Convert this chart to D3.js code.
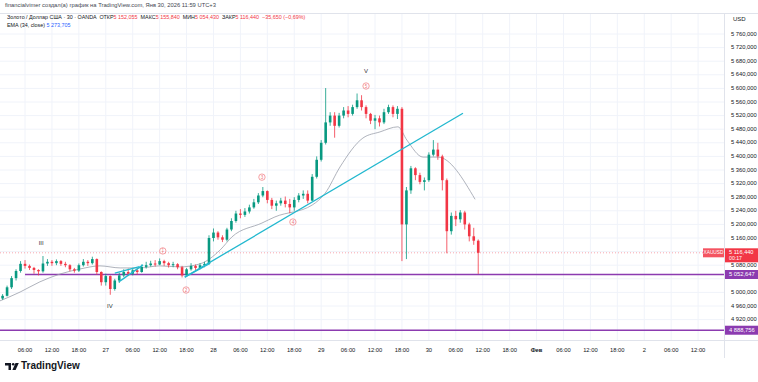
<!DOCTYPE html>
<html><head><meta charset="utf-8">
<script src="https://cdn.jsdelivr.net/npm/d3@7"></script>
<style>body{margin:0;background:#fff;} svg{display:block;font-family:"Liberation Sans",Arial,sans-serif;}</style>
</head><body><svg id="c" width="758" height="382"></svg>
<script>
// ---------- DATA ----------
const firstCandleHour = 1; // hours after Jan 26 00:00 (UTC+3)
const opens = [4982,4990,5015,5042,5063,5084,5078,5072,5066,5062,5085,5090,5086,5092,5084,5080,5068,5064,5080,5090,5086,5098,5060,5030,5048,5010,5035,5050,5060,5055,5065,5060,5075,5080,5085,5082,5092,5086,5080,5083,5074,5050,5068,5078,5072,5080,5084,5160,5176,5162,5155,5185,5210,5232,5228,5238,5250,5265,5285,5298,5272,5255,5262,5270,5260,5250,5272,5285,5290,5270,5340,5390,5440,5500,5520,5490,5520,5535,5525,5545,5565,5545,5525,5505,5512,5500,5530,5545,5525,5540,5200,5300,5365,5345,5325,5330,5405,5420,5400,5330,5180,5225,5215,5235,5200,5165,5152.055];
const highs = [4995,5020,5048,5068,5092,5095,5082,5075,5068,5107,5098,5095,5097,5095,5090,5083,5072,5085,5098,5095,5105,5100,5062,5055,5050,5040,5058,5068,5070,5072,5070,5082,5090,5093,5095,5100,5096,5090,5090,5086,5078,5072,5086,5082,5086,5090,5168,5188,5180,5168,5190,5218,5240,5245,5248,5258,5275,5292,5310,5300,5278,5270,5278,5282,5275,5280,5292,5300,5300,5348,5400,5448,5601,5530,5530,5528,5545,5548,5552,5585,5580,5550,5528,5522,5520,5540,5552,5550,5548,5545,5310,5372,5368,5352,5338,5412,5448,5440,5405,5335,5235,5240,5242,5240,5205,5190,5155.84];
const lows = [4978,4988,5010,5035,5058,5070,5066,5055,5050,5058,5078,5078,5080,5078,5074,5062,5058,5060,5076,5078,5082,5052,5020,5020,4993,5005,5028,5045,5048,5050,5052,5058,5070,5076,5076,5080,5078,5073,5074,5068,5044,5046,5064,5066,5068,5074,5082,5150,5155,5148,5150,5180,5205,5218,5222,5232,5246,5260,5280,5262,5245,5240,5255,5250,5233,5240,5265,5275,5262,5268,5335,5385,5435,5490,5455,5485,5512,5515,5520,5540,5535,5512,5495,5480,5488,5495,5525,5515,5510,5092,5098,5290,5330,5318,5300,5325,5400,5390,5300,5115,5170,5195,5205,5185,5150,5140,5054.43];
const closes = [4990,5015,5042,5063,5084,5078,5072,5066,5062,5085,5090,5086,5092,5084,5080,5068,5064,5080,5090,5086,5098,5060,5030,5048,5010,5035,5050,5060,5055,5065,5060,5075,5080,5085,5082,5092,5086,5080,5083,5074,5050,5068,5078,5072,5080,5084,5160,5176,5162,5155,5185,5210,5232,5228,5238,5250,5265,5285,5298,5272,5255,5262,5270,5260,5250,5272,5285,5290,5270,5340,5390,5440,5500,5520,5490,5520,5535,5525,5545,5565,5545,5525,5505,5512,5500,5530,5545,5525,5540,5200,5300,5365,5345,5325,5330,5405,5420,5400,5330,5180,5225,5215,5235,5200,5165,5152.055,5116.44];

const emaHours = [0.4,4.9,9.3,13.8,18.3,22.7,27.2,31.6,36,40.5,45,49.5,52.1,58.8,61.7,70,72.9,76.2,81.3,85.1,89.1,91.1,94.7,98,106.3];
const emaValues = [4975,5001,5031,5054,5069,5078,5072,5072,5078,5075,5084,5125,5163,5204,5222,5257,5292,5369,5454,5472,5487,5448,5398,5398,5273.705];

const xTickHours = [6,12,18,24,30,36,42,48,54,60,66,72,78,84,90,96,102,108,114,120,126,132,138,144,150,156];
const xTickLabels = ["06:00","12:00","18:00","27","06:00","12:00","18:00","28","06:00","12:00","18:00","29","06:00","12:00","18:00","30","06:00","12:00","18:00","Фев","06:00","12:00","18:00","2","06:00","12:00"];
const yTicks = [4920,4960,5000,5040,5080,5120,5160,5200,5240,5280,5320,5360,5400,5440,5480,5520,5560,5600,5640,5680,5720,5760];

const trendLines = [ // [h1, p1, h2, p2]
  [41.6, 5045, 103.6, 5527],
  [41.6, 5045, 47.2, 5085],
  [26.9, 5031, 32.3, 5081],
  [26.0, 5057, 31.5, 5076]
];
const levelValues = [5052.647, 4888.756];
const levelStartHours = [6, 0];
const lastPrice = 5116.44;
const emaLast = 5273.705;

const waveLabels = ["III","IV","V"];
const waveHours = [9.6, 24.9, 82];
const wavePrices = [5145, 4960, 5651];
const circleLabels = ["1","2","3","4","5"];
const circleHours = [36.7, 41.9, 58.8, 65.7, 82];
const circlePrices = [5122, 5007, 5339, 5207, 5607];

// ---------- DRAW ----------
const svg = d3.select("#c");
const W = 758, H = 382, paneR = 724, paneT = 13, paneB = 340;
const x = d3.scaleLinear().domain([0, 156]).range([-1.9, 698.1]);
const y = d3.scaleLinear().domain([4920, 5760]).range([319.6, 34]);
const fmt = v => { const s = v.toFixed(3).replace(".", ","); return s.replace(/^(\d)(\d{3})/, "$1 $2"); };

const up = "#089981", dn = "#f23645";

// grid
const g = svg.append("g");
g.selectAll("line.vg").data(xTickHours).join("line")
  .attr("x1", d => x(d)).attr("x2", d => x(d)).attr("y1", paneT).attr("y2", paneB)
  .attr("stroke", "#f0f3fa").attr("stroke-width", 1);
g.selectAll("line.hg").data(yTicks).join("line")
  .attr("x1", 0).attr("x2", paneR).attr("y1", d => y(d)).attr("y2", d => y(d))
  .attr("stroke", "#f0f3fa").attr("stroke-width", 1);

// pane border
svg.append("line").attr("x1", 0).attr("x2", W).attr("y1", paneT + 0.5).attr("y2", paneT + 0.5).attr("stroke", "#e0e3eb");
svg.append("line").attr("x1", paneR + 0.5).attr("x2", paneR + 0.5).attr("y1", paneT).attr("y2", 358).attr("stroke", "#e0e3eb");
svg.append("line").attr("x1", 0).attr("x2", W).attr("y1", paneB + 0.5).attr("y2", paneB + 0.5).attr("stroke", "#e0e3eb");

// last price dotted line
svg.append("line").attr("x1", 0).attr("x2", paneR).attr("y1", y(lastPrice)).attr("y2", y(lastPrice))
  .attr("stroke", "#f7a9b0").attr("stroke-width", 1).attr("stroke-dasharray", "1,2");

// horizontal levels
levelValues.forEach((v, i) => {
  svg.append("line").attr("x1", x(levelStartHours[i])).attr("x2", paneR).attr("y1", y(v)).attr("y2", y(v))
    .attr("stroke", "#8c3bb0").attr("stroke-width", 1.6);
});

// EMA
const emaPts = emaHours.map((h, i) => [h, emaValues[i]]);
svg.append("path").datum(emaPts)
  .attr("d", d3.line().x(d => x(d[0])).y(d => y(d[1])).curve(d3.curveMonotoneX))
  .attr("fill", "none").attr("stroke", "#9aa0ab").attr("stroke-width", 0.8);

// candles
const candles = closes.map((c, i) => ({h: firstCandleHour + i, o: opens[i], hi: highs[i], lo: lows[i], c}));
const cg = svg.append("g");
cg.selectAll("line.w").data(candles).join("line")
  .attr("x1", d => x(d.h)).attr("x2", d => x(d.h))
  .attr("y1", d => y(d.hi)).attr("y2", d => y(d.lo))
  .attr("stroke", d => d.c >= d.o ? up : dn).attr("stroke-width", 0.8);
cg.selectAll("rect").data(candles).join("rect")
  .attr("x", d => x(d.h) - 1.3).attr("width", 2.6)
  .attr("y", d => y(Math.max(d.o, d.c)))
  .attr("height", d => Math.max(0.8, Math.abs(y(d.o) - y(d.c))))
  .attr("fill", d => d.c >= d.o ? up : dn);

// trend lines
svg.selectAll("line.tl").data(trendLines).join("line")
  .attr("x1", d => x(d[0])).attr("y1", d => y(d[1])).attr("x2", d => x(d[2])).attr("y2", d => y(d[3]))
  .attr("stroke", "#22b8cf").attr("stroke-width", 1.3);

// wave labels
waveLabels.forEach((t, i) => {
  svg.append("text").attr("x", x(waveHours[i])).attr("y", y(wavePrices[i])).attr("text-anchor", "middle")
    .attr("dominant-baseline", "middle").attr("font-size", 6).attr("fill", "#333").text(t);
});
circleLabels.forEach((t, i) => {
  const cx = x(circleHours[i]), cy = y(circlePrices[i]);
  svg.append("circle").attr("cx", cx).attr("cy", cy).attr("r", 3.2).attr("fill", "none").attr("stroke", "#f0787d").attr("stroke-width", 0.7);
  svg.append("text").attr("x", cx).attr("y", cy + 0.3).attr("text-anchor", "middle").attr("dominant-baseline", "middle")
    .attr("font-size", 4.6).attr("fill", "#f0787d").text(t);
});

// right axis (tick labels covered by the price labels are hidden, as in the reference)
const labelYs = [y(lastPrice) + 3, ...levelValues.map(v => y(v))];
const visibleTicks = yTicks.filter(t => labelYs.every(ly => Math.abs(y(t) - ly) > 9));
svg.append("text").attr("x", 733).attr("y", 21).attr("font-size", 6).attr("fill", "#131722").text("USD");
svg.selectAll("text.yt").data(visibleTicks).join("text")
  .attr("x", 731).attr("y", d => y(d)).attr("dominant-baseline", "middle")
  .attr("font-size", 5.8).attr("fill", "#131722").text(d => fmt(d));

// bottom axis
svg.selectAll("text.xt").data(xTickHours).join("text")
  .attr("x", (d) => x(d)).attr("y", 350).attr("text-anchor", "middle").attr("dominant-baseline", "middle")
  .attr("font-size", 5.8).attr("fill", "#131722")
  .attr("font-weight", (d, i) => xTickLabels[i] === "Фев" ? "bold" : null)
  .text((d, i) => xTickLabels[i]);

// level labels
levelValues.forEach(v => {
  svg.append("rect").attr("x", paneR + 1).attr("y", y(v) - 4.5).attr("width", 33).attr("height", 9).attr("fill", "#8c3bb0");
  svg.append("text").attr("x", paneR + 5).attr("y", y(v)).attr("dominant-baseline", "middle").attr("font-size", 5.8).attr("fill", "#fff").text(fmt(v));
});
// last price label
const yl = y(lastPrice);
svg.append("rect").attr("x", 703).attr("y", yl - 4.5).attr("width", 21).attr("height", 9).attr("fill", "#f23645").attr("opacity", 0.85);
svg.append("text").attr("x", 713.5).attr("y", yl).attr("text-anchor", "middle").attr("dominant-baseline", "middle").attr("font-size", 4.8).attr("fill", "#fff").text("XAUUSD");
svg.append("rect").attr("x", paneR + 1).attr("y", yl - 4.5).attr("width", 33).attr("height", 14).attr("fill", "#f23645");
svg.append("text").attr("x", paneR + 5).attr("y", yl - 0.5).attr("dominant-baseline", "middle").attr("font-size", 5.6).attr("fill", "#fff").text(fmt(lastPrice));
svg.append("text").attr("x", paneR + 5).attr("y", yl + 5.6).attr("dominant-baseline", "middle").attr("font-size", 5.2).attr("fill", "#fff").text("00:17");

// header
svg.append("text").attr("x", 5).attr("y", 7).attr("font-size", 5.8).attr("fill", "#434651")
  .text("financialvimer создал(а) график на TradingView.com, Янв 30, 2026 11:59 UTC+3");
const h2 = svg.append("text").attr("x", 7).attr("y", 19).attr("font-size", 5.4).attr("fill", "#131722");
[["Золото / Доллар США · 30 · OANDA  ", "#131722"], ["ОТКР", "#131722"], ["5 152,055  ", dn], ["МАКС", "#131722"], ["5 155,840  ", dn],
 ["МИН", "#131722"], ["5 054,430  ", dn], ["ЗАКР", "#131722"], ["5 116,440  −35,650 (−0,69%)", dn]]
 .forEach(([t, c]) => h2.append("tspan").attr("fill", c).attr("xml:space", "preserve").text(t));
const h3 = svg.append("text").attr("x", 7).attr("y", 27).attr("font-size", 5.4).attr("fill", "#131722");
h3.append("tspan").text("EMA (34, close) ");
h3.append("tspan").attr("fill", "#2962ff").text(" " + fmt(emaLast));

// TradingView logo
const lg = svg.append("g").attr("transform", "translate(5,363)");
lg.append("path").attr("d", "M0 0 H6 V7 H3.5 V2.4 H0 Z").attr("fill", "#131722");
lg.append("circle").attr("cx", 8.2).attr("cy", 1.3).attr("r", 1.3).attr("fill", "#131722");
lg.append("path").attr("d", "M10.5 0 H13.8 L10.6 7 H7.4 Z").attr("fill", "#131722");
svg.append("text").attr("x", 21).attr("y", 369).attr("font-size", 10).attr("font-weight", "bold").attr("fill", "#131722").text("TradingView");
</script></body></html>
